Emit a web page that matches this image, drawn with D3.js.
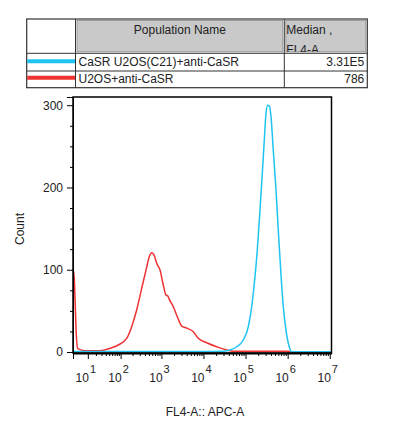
<!DOCTYPE html>
<html lang="en">
	<head>
		<meta charset="UTF-8" />
		<title>FL4-A histogram overlay</title>
		<script src="https://d3js.org/d3.v7.min.js"></script>
		<style>
			body {
				margin: 0;
				background: #fff;
			}
			svg text {
				font-family: "Liberation Sans", Arial, sans-serif;
				fill: #222;
			}
			.axis text {
				font-size: 12px;
			}
		</style>
	</head>
	<body>
		<svg width="402" height="430"></svg>

		<script>
			const width = 402;
			const height = 430;

			// legend table
			const populations = ["CaSR U2OS(C21)+anti-CaSR", "U2OS+anti-CaSR"];
			const medians = ["3.31E5", "786"];
			const headers = ["Population Name", "Median ,", "FL4-A"];

			// axis ticks
			const yTicks = [0, 100, 200, 300];
			const yMinor = [25, 50, 75, 125, 150, 175, 225, 250, 275];
			const xDecades = [1, 2, 3, 4, 5, 6, 7];

			// CaSR U2OS(C21)+anti-CaSR
			const cyanX = [0, 100, 1000, 10000, 30000, 42770, 61660, 88480, 116300, 140000, 167600, 190200,
				220500, 250100, 279000, 306200, 336000, 366800, 402600, 456200, 529000, 600000, 683800,
				788000, 914000, 1037000, 1248000, 2000000, 11000000];
			const cyanCount = [0.5, 0.5, 0.5, 0.5, 1, 2.4, 6.4, 14.6, 30.7, 55, 91.5, 124, 172.5, 217, 257.6,
				290, 300, 299, 286, 245, 197, 148, 99.6, 55, 26.7, 10.6, 0.4, 0.3, 0.3];

			// U2OS+anti-CaSR
			const redX = [0, 0.4, 1, 1.6, 2.4, 7.4, 27, 52.5, 87, 143, 190, 252, 334, 425, 510, 583, 662, 769,
				923, 1107, 1284, 1420, 1540, 1920, 2392, 3042, 4000, 5744, 7560, 11960, 20670, 35740, 51200,
				100000, 1000000, 1260000, 11000000];
			const redCount = [90, 98, 60, 20, 4, 1.5, 1.6, 4.5, 8.5, 16.6, 30.8, 51, 77.4, 99.6, 115.8, 120.7,
				118, 107.8, 99.6, 81.4, 69.3, 68, 64, 55, 42.9, 31.5, 29, 24.7, 16.6, 11.3, 6.4, 2.4, 1, 1, 1,
				0, 0];

			const cyan = "#1ec3f2";
			const red = "#f03232";

			const svg = d3.select("svg");

			// ---- table ----
			const tx = [26.7, 75.5, 284.3, 367.3];
			const ty = [19, 53.3, 71, 87.7];
			const table = svg.append("g").attr("class", "table");

			// gray header cells
			[1, 2].forEach((c) => {
				table
					.append("rect")
					.attr("x", tx[c] + 1.5)
					.attr("y", ty[0] + 1.5)
					.attr("width", tx[c + 1] - tx[c] - 3)
					.attr("height", ty[1] - ty[0] - 3)
					.attr("fill", "#c9c9c9")
					.attr("stroke", "#8c8c8c")
					.attr("stroke-width", 0.8);
			});

			table
				.append("rect")
				.attr("x", tx[0])
				.attr("y", ty[0])
				.attr("width", tx[3] - tx[0])
				.attr("height", ty[3] - ty[0])
				.attr("fill", "none")
				.attr("stroke", "#333")
				.attr("stroke-width", 1.2);

			table
				.selectAll("line.v")
				.data([tx[1], tx[2]])
				.join("line")
				.attr("x1", (d) => d)
				.attr("x2", (d) => d)
				.attr("y1", ty[0])
				.attr("y2", ty[3])
				.attr("stroke", "#333");

			table
				.selectAll("line.h")
				.data([ty[1], ty[2]])
				.join("line")
				.attr("x1", tx[0])
				.attr("x2", tx[3])
				.attr("y1", (d) => d)
				.attr("y2", (d) => d)
				.attr("stroke", "#333");

			svg
				.append("clipPath")
				.attr("id", "hdr")
				.append("rect")
				.attr("x", tx[2])
				.attr("y", ty[0])
				.attr("width", tx[3] - tx[2])
				.attr("height", ty[1] - ty[0] - 1.5);

			table
				.append("text")
				.attr("x", (tx[1] + tx[2]) / 2)
				.attr("y", 34)
				.attr("text-anchor", "middle")
				.style("font-size", "12px")
				.text(headers[0]);

			// second header line is cut by the cell, as in the source export
			table
				.append("g")
				.attr("clip-path", "url(#hdr)")
				.selectAll("text")
				.data(headers.slice(1))
				.join("text")
				.attr("x", tx[2] + 2)
				.attr("y", (d, i) => 34 + i * 20)
				.style("font-size", "12px")
				.text((d) => d);

			const rowY = [66, 83];
			table
				.selectAll("text.pop")
				.data(populations)
				.join("text")
				.attr("class", "pop")
				.attr("x", tx[1] + 3)
				.attr("y", (d, i) => rowY[i])
				.style("font-size", "12px")
				.text((d) => d);

			table
				.selectAll("text.med")
				.data(medians)
				.join("text")
				.attr("class", "med")
				.attr("x", tx[3] - 3)
				.attr("y", (d, i) => rowY[i])
				.attr("text-anchor", "end")
				.style("font-size", "12px")
				.text((d) => d);

			table
				.selectAll("line.key")
				.data([cyan, red])
				.join("line")
				.attr("class", "key")
				.attr("x1", tx[0] + 0.5)
				.attr("x2", tx[1] - 0.5)
				.attr("y1", (d, i) => [61.3, 77.8][i])
				.attr("y2", (d, i) => [61.3, 77.8][i])
				.attr("stroke", (d) => d)
				.attr("stroke-width", 4);

			// ---- plot ----
			const plotLeft = 73;
			const plotRight = 331.5;
			const plotTop = 97;
			const plotBottom = 353;

			// biexponential-like display: symlog with small linear region
			const x = d3.scaleSymlog().constant(8).domain([0, 1.1e7]).range([plotLeft, plotRight]);
			const y = d3.scaleLinear().domain([0, 310]).range([352, plotTop]);

			svg
				.append("clipPath")
				.attr("id", "plot")
				.append("rect")
				.attr("x", plotLeft)
				.attr("y", plotTop)
				.attr("width", plotRight - plotLeft)
				.attr("height", plotBottom - plotTop);

			const line = d3
				.line()
				.x((d) => x(d[0]))
				.y((d) => y(d[1]))
				.curve(d3.curveMonotoneX);

			const curves = svg.append("g").attr("clip-path", "url(#plot)");
			curves
				.append("path")
				.attr("d", line(d3.zip(redX, redCount)))
				.attr("fill", "none")
				.attr("stroke", red)
				.attr("stroke-width", 1.5);
			curves
				.append("path")
				.attr("d", line(d3.zip(cyanX, cyanCount)))
				.attr("fill", "none")
				.attr("stroke", cyan)
				.attr("stroke-width", 1.5);

			// frame
			svg
				.append("rect")
				.attr("x", plotLeft)
				.attr("y", plotTop)
				.attr("width", plotRight - plotLeft)
				.attr("height", plotBottom - plotTop)
				.attr("fill", "none")
				.attr("stroke", "#000")
				.attr("stroke-width", 1.5);

			// y axis
			svg
				.append("g")
				.attr("class", "axis")
				.attr("transform", `translate(${plotLeft},0)`)
				.call(d3.axisLeft(y).tickValues(yMinor).tickSize(3).tickSizeOuter(0).tickFormat(""))
				.call((g) => g.select(".domain").remove());

			svg
				.append("g")
				.attr("class", "axis")
				.attr("transform", `translate(${plotLeft},0)`)
				.call(d3.axisLeft(y).tickValues(yTicks).tickSize(6).tickSizeOuter(6).tickPadding(4))
				.call((g) => g.selectAll("text").style("fill", "#222"));

			// x axis
			const minorX = [];
			for (let k = 1; k <= 6; k++) {
				for (let m = 2; m <= 9; m++) minorX.push(m * Math.pow(10, k));
			}

			svg
				.append("g")
				.attr("class", "axis")
				.attr("transform", `translate(0,${plotBottom})`)
				.call(d3.axisBottom(x).tickValues(minorX).tickSize(3).tickSizeOuter(0).tickFormat(""))
				.call((g) => g.select(".domain").remove());

			const xAxis = svg
				.append("g")
				.attr("class", "axis")
				.attr("transform", `translate(0,${plotBottom})`)
				.call(
					d3
						.axisBottom(x)
						.tickValues([0].concat(xDecades.map((k) => Math.pow(10, k))))
						.tickSize(6)
						.tickSizeOuter(0)
						.tickFormat("")
				);
			xAxis.select(".domain").attr("stroke-width", 2);

			const xLabels = svg
				.append("g")
				.selectAll("text")
				.data(xDecades)
				.join("text")
				.attr("x", (k) => x(Math.pow(10, k)) - 2)
				.attr("y", 382)
				.attr("text-anchor", "middle")
				.style("font-size", "12px");
			xLabels.append("tspan").text("10");
			xLabels
				.append("tspan")
				.attr("dx", 1)
				.attr("dy", -9)
				.style("font-size", "11px")
				.text((k) => k);

			// axis titles
			svg
				.append("text")
				.attr("x", 205)
				.attr("y", 416)
				.attr("text-anchor", "middle")
				.style("font-size", "12px")
				.text("FL4-A:: APC-A");

			svg
				.append("text")
				.attr("transform", "translate(24,229) rotate(-90)")
				.attr("text-anchor", "middle")
				.style("font-size", "12px")
				.text("Count");
		</script>
	</body>
</html>
